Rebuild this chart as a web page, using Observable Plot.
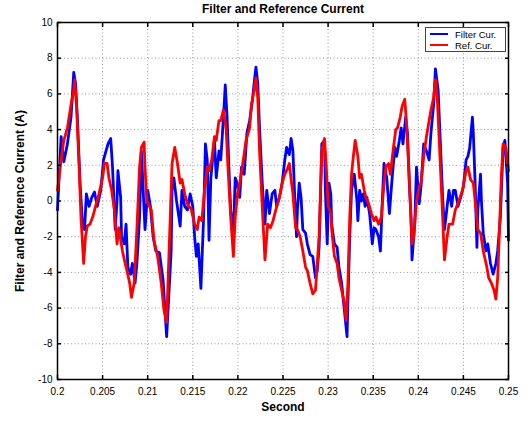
<!DOCTYPE html>
<html>
<head>
<meta charset="utf-8">
<script src="https://cdn.jsdelivr.net/npm/d3@7"></script>
<script src="https://cdn.jsdelivr.net/npm/@observablehq/plot@0.6"></script>
<style>
  html, body { margin: 0; padding: 0; background: white; }
  #wrap { position: relative; width: 528px; height: 426px; font-family: "Liberation Sans", Arial, sans-serif; }
  #legend { position: absolute; left: 425px; top: 27px; width: 81px; height: 25px; border: 1px solid #444; background: white; font-size: 9.5px; box-sizing: border-box; }
  .item { position: absolute; left: 4px; height: 11px; line-height: 11px; white-space: nowrap; }
  .sw { display: inline-block; width: 18px; height: 0; border-top: 2px solid; vertical-align: middle; margin-right: 7px; position: relative; top: -1px; }
</style>
</head>
<body>
<div id="wrap"></div>
<script>
const xTicks = [0.2, 0.205, 0.21, 0.215, 0.22, 0.225, 0.23, 0.235, 0.24, 0.245, 0.25];
const xTickLabels = ["0.2", "0.205", "0.21", "0.215", "0.22", "0.225", "0.23", "0.235", "0.24", "0.245", "0.25"];
const yTicks = [-10, -8, -6, -4, -2, 0, 2, 4, 6, 8, 10];
const yTickLabels = ["-10", "-8", "-6", "-4", "-2", "0", "2", "4", "6", "8", "10"];
const seriesNames = ["Filter Cur.", "Ref. Cur."];
const seriesColors = ["#0000ff", "#ff0000"];

const filterTime = [
  0.2000, 0.2004, 0.2007, 0.2011, 0.2015, 0.2018, 0.2020, 0.2022, 0.2025, 0.2028,
  0.2030, 0.2032, 0.2035, 0.2038, 0.2041, 0.2044, 0.2048, 0.2051, 0.2056, 0.2059,
  0.2061, 0.2064, 0.2066, 0.2067, 0.2070, 0.2071, 0.2074, 0.2076, 0.2078, 0.2081,
  0.2083, 0.2086, 0.2088, 0.2091, 0.2093, 0.2097, 0.2100, 0.2103, 0.2106, 0.2109,
  0.2113, 0.2117, 0.2121,
  0.2126, 0.2127, 0.2129, 0.2132, 0.2136, 0.2138, 0.2141, 0.2144, 0.2147, 0.2150,
  0.2152, 0.2154, 0.2156, 0.2159, 0.2162, 0.2164, 0.2166, 0.2168, 0.2170, 0.2174,
  0.2176, 0.2179, 0.2181, 0.2184, 0.2186, 0.2188, 0.2190, 0.2192, 0.2195, 0.2197,
  0.2199, 0.2202, 0.2204, 0.2207, 0.2210, 0.2213, 0.2216, 0.2218, 0.2220, 0.2222,
  0.2224, 0.2227, 0.2230, 0.2232, 0.2235, 0.2238, 0.2241, 0.2243, 0.2246,
  0.2249, 0.2252, 0.2254, 0.2257, 0.2259, 0.2261, 0.2263, 0.2265, 0.2266, 0.2268,
  0.2270, 0.2272, 0.2275, 0.2277, 0.2280, 0.2283, 0.2286, 0.2288, 0.2290, 0.2292,
  0.2293, 0.2296, 0.2297, 0.2299, 0.2301, 0.2303, 0.2304, 0.2307, 0.2310, 0.2312,
  0.2315, 0.2318, 0.2321, 0.2322, 0.2324, 0.2326, 0.2329, 0.2332, 0.2333, 0.2335,
  0.2337, 0.2339, 0.2341, 0.2343, 0.2346, 0.2349, 0.2351, 0.2353, 0.2356, 0.2358,
  0.2360, 0.2362, 0.2365, 0.2368,
  0.2371, 0.2374, 0.2376, 0.2379, 0.2381, 0.2383, 0.2386, 0.2388, 0.2390, 0.2392,
  0.2393, 0.2396, 0.2398, 0.2401, 0.2403, 0.2406, 0.2409, 0.2412, 0.2414, 0.2417,
  0.2419, 0.2422, 0.2424, 0.2427, 0.2429, 0.2432, 0.2434, 0.2437, 0.2439, 0.2441,
  0.2444, 0.2447, 0.2450, 0.2453, 0.2455, 0.2457, 0.2460, 0.2461, 0.2463, 0.2465,
  0.2466, 0.2469, 0.2470, 0.2472, 0.2475, 0.2477, 0.2480, 0.2483, 0.2486, 0.2488,
  0.2491, 0.2494, 0.2496, 0.2499, 0.2500
];
const filterCurrent = [
  -0.5, 3.6, 2.2, 3.2, 4.7, 7.2, 6.6, 4.7, 1.0, -1.5,
  -1.6, 0.4, -0.3, 0.2, 0.5, -0.3, 0.6, 2.3, 3.2, 3.5,
  1.9, -1.6, 0.0, 1.7, 0.2, -2.0, -2.4, -1.3, -3.7, -4.1,
  -3.5, -4.6, -3.5, -0.9, 2.8, -1.6, 0.6, -0.3, -2.0, -2.8,
  -2.9, -4.4, -7.6,
  -2.8, 0.6, 1.3, 0.0, -1.4, 0.6, -0.3, -0.5, 0.4, -0.3,
  -2.0, -3.1, -2.4, -4.9, -0.9, 3.2, 2.3, -2.2, 1.3, 3.4,
  1.3, 2.8, 2.3, 4.7, 6.5, 4.7, 1.9, -0.5, -1.9, 1.3,
  1.0, 0.2, 1.9, 1.5, 3.8, 4.5, 5.6, 6.6, 7.5, 6.6,
  4.1, 1.0, -1.3, 0.6, -0.7, 0.4, 0.6, -0.3, 0.2,
  1.0, 2.3, 3.0, 2.6, 3.5, 2.8, 0.2, -2.0, -0.5, 1.0,
  0.2, -1.6, -1.8, -2.4, -3.0, -3.1, -4.3, -3.9, -2.6, 1.0,
  3.2, 3.4, 0.6, -2.4, 1.0, 0.4, -1.3, -2.4, -2.6, -3.7,
  -4.6, -6.1, -7.6, -5.6, -2.0, 0.6, 1.5, 0.0, -1.1, 0.6,
  0.0, 0.4, -0.3, 0.2, -0.7, -2.4, -1.5, -1.6, -2.0, -2.8,
  -0.15, 2.1, 1.3, -0.7,
  1.3, 3.0, 2.5, 3.4, 4.1, 3.2, 4.7, 3.8, 1.0, -0.9,
  -3.3, -1.3, 1.9, -0.15, 0.8, 3.2, 2.8, 2.3, 3.8, 5.4,
  7.4, 6.2, 3.8, 0.2, -1.6, -0.3, 0.6, -0.3, 0.6, 0.6,
  -0.3, 0.2, 0.8, 2.3, 2.5, 3.0, 4.7, 3.8, 1.0, -2.6,
  -0.5, 1.5, 0.0, -1.8, -2.8, -2.4, -3.5, -4.1, -3.5, -2.8,
  -0.9, 3.0, 3.4, 1.0, -2.2
];

const refTime = [
  0.2000, 0.2004, 0.2007, 0.2011, 0.2015, 0.2018, 0.2019, 0.2021, 0.2024, 0.2026,
  0.2029, 0.2031, 0.2033, 0.2036, 0.2039, 0.2043, 0.2046, 0.2050, 0.2052, 0.2055,
  0.2057, 0.2060, 0.2063, 0.2066, 0.2068, 0.2072, 0.2075, 0.2077, 0.2080, 0.2082,
  0.2085, 0.2088, 0.2091, 0.2093, 0.2096, 0.2097, 0.2099, 0.2102, 0.2104, 0.2107,
  0.2111, 0.2115, 0.2118, 0.2121,
  0.2125, 0.2127, 0.2130, 0.2133, 0.2136, 0.2138, 0.2141, 0.2145, 0.2148, 0.2152,
  0.2155, 0.2157, 0.2160, 0.2163, 0.2166, 0.2168, 0.2171, 0.2174, 0.2176, 0.2179,
  0.2181, 0.2184, 0.2187, 0.2189, 0.2192, 0.2195, 0.2197, 0.2200, 0.2202, 0.2206,
  0.2209, 0.2213, 0.2215, 0.2218, 0.2220, 0.2222, 0.2224, 0.2227, 0.2230, 0.2233,
  0.2236, 0.2239, 0.2242, 0.2246, 0.2249,
  0.2252, 0.2254, 0.2257, 0.2259, 0.2261, 0.2264, 0.2266, 0.2269, 0.2272, 0.2275,
  0.2277, 0.2280, 0.2283, 0.2286, 0.2288, 0.2290, 0.2292, 0.2293, 0.2296, 0.2298,
  0.2300, 0.2303, 0.2304, 0.2307, 0.2310, 0.2312, 0.2315, 0.2318, 0.2320, 0.2322,
  0.2324, 0.2326, 0.2328, 0.2330, 0.2333, 0.2335, 0.2337, 0.2340, 0.2342, 0.2345,
  0.2348, 0.2351, 0.2353, 0.2356, 0.2359, 0.2362, 0.2364, 0.2367, 0.2369,
  0.2372, 0.2375, 0.2377, 0.2380, 0.2382, 0.2385, 0.2387, 0.2390, 0.2392, 0.2393,
  0.2395, 0.2398, 0.2401, 0.2403, 0.2406, 0.2409, 0.2412, 0.2414, 0.2417, 0.2419,
  0.2421, 0.2424, 0.2427, 0.2429, 0.2432, 0.2434, 0.2438, 0.2441, 0.2445, 0.2449,
  0.2453, 0.2455, 0.2458, 0.2461, 0.2464, 0.2466, 0.2469, 0.2472, 0.2476, 0.2478,
  0.2481, 0.2484, 0.2486, 0.2488, 0.2490, 0.2492, 0.2494, 0.2497, 0.2500
];
const refCurrent = [
  0.6, 2.3, 3.4, 4.1, 5.4, 6.2, 6.8, 5.4, 1.9, -0.9,
  -3.5, -2.0, -1.4, -1.3, -0.9, -0.15, 0.4, 1.3, 2.1, 2.1,
  1.3, 0.6, -0.5, -2.4, -1.5, -2.8, -3.5, -3.9, -4.6, -5.4,
  -4.6, -1.6, 1.9, 3.0, 3.3, 1.9, 0.0, -0.3, -0.5, -2.2,
  -3.1, -4.6, -6.1, -6.8,
  -0.9, 2.1, 3.0, 2.1, 1.0, 1.2, 0.4, -0.3, -0.4, -1.3,
  -1.6, -0.9, -1.1, 0.6, 1.9, 1.7, 2.3, 3.6, 3.4, 4.5,
  4.5, 5.1, 4.0, 1.9, -0.9, -3.1, -0.9, 0.6, 1.0, 2.3,
  3.4, 4.1, 5.4, 6.2, 6.9, 5.8, 2.8, -0.3, -3.3, -1.3,
  -1.5, -1.1, -0.5, 0.2, 1.0,
  1.5, 1.7, 2.1, 1.2, 0.4, -1.5, -1.6, -2.0, -2.8, -3.7,
  -3.9, -4.6, -5.2, -5.0, -3.5, -2.0, 1.3, 2.8, 3.5, 1.9,
  -0.3, -0.7, -1.6, -3.1, -3.5, -4.3, -5.0, -5.7, -6.7, -4.6,
  -0.9, 1.5, 2.5, 3.4, 2.5, 1.3, 1.5, 0.6, 0.2, -0.15,
  -0.7, -1.1, -0.9, -1.3, -0.9, 1.0, 1.9, 2.1, 1.5,
  2.8, 4.0, 4.1, 4.7, 5.3, 5.7, 4.3, 1.3, -1.3, -2.4,
  -2.0, 0.0, 0.8, 1.0, 2.5, 3.6, 4.5, 5.1, 5.8, 6.8,
  5.8, 2.5, -0.9, -3.3, -2.0, -1.3, -1.3, -0.5, 0.0, 0.6,
  1.7, 1.9, 1.2, 1.0, -0.5, -1.6, -1.8, -2.8, -3.7, -4.3,
  -4.6, -5.0, -5.5, -4.3, -1.6, 1.3, 3.2, 3.0, 1.7
];

const filterData = filterTime.map((t, i) => ({t, v: filterCurrent[i]}));
const refData = refTime.map((t, i) => ({t, v: refCurrent[i]}));

const gridStyle = {stroke: "#999", strokeOpacity: 1, strokeWidth: 1, strokeDasharray: "1,2.5"};

const chart = Plot.plot({
  width: 528,
  height: 426,
  marginLeft: 57,
  marginRight: 20,
  marginTop: 22,
  marginBottom: 47,
  style: {fontFamily: "'Liberation Sans', Arial, sans-serif", fontSize: "10px", color: "black", background: "white", overflow: "visible"},
  x: {domain: [0.2, 0.25]},
  y: {domain: [-10, 10]},
  marks: [
    Plot.gridX(xTicks, gridStyle),
    Plot.gridY(yTicks, gridStyle),
    Plot.line(filterData, {x: "t", y: "v", stroke: seriesColors[0], strokeWidth: 2.8, strokeLinejoin: "round"}),
    Plot.line(refData, {x: "t", y: "v", stroke: seriesColors[1], strokeWidth: 2.8, strokeLinejoin: "round"}),
    Plot.frame({stroke: "black", strokeWidth: 1.5}),
    Plot.axisX(xTicks, {anchor: "bottom", tickSize: -4, tickPadding: 12, strokeWidth: 1.5, tickFormat: d => xTickLabels[xTicks.indexOf(d)], label: null}),
    Plot.axisX(xTicks, {anchor: "top", tickSize: -4, strokeWidth: 1.5, tickFormat: () => "", label: null}),
    Plot.axisY(yTicks, {anchor: "left", tickSize: -4, tickPadding: 9, strokeWidth: 1.5, tickFormat: d => yTickLabels[yTicks.indexOf(d)], label: null}),
    Plot.axisY(yTicks, {anchor: "right", tickSize: -4, strokeWidth: 1.5, tickFormat: () => "", label: null}),
    Plot.text(["Filter and Reference Current"], {frameAnchor: "top", dy: -13, lineAnchor: "middle", fontSize: 12, fontWeight: "bold"}),
    Plot.text(["Second"], {frameAnchor: "bottom", dy: 31, fontSize: 12, fontWeight: "bold"}),
    Plot.text(["Filter and Reference Current (A)"], {frameAnchor: "left", dx: -37, rotate: -90, textAnchor: "middle", fontSize: 12, fontWeight: "bold"})
  ]
});

const wrap = document.getElementById("wrap");
wrap.appendChild(chart);

const legend = document.createElement("div");
legend.id = "legend";
seriesNames.forEach((name, i) => {
  const item = document.createElement("div");
  item.className = "item";
  item.style.top = (1 + i * 11) + "px";
  const sw = document.createElement("span");
  sw.className = "sw";
  sw.style.borderColor = seriesColors[i];
  item.appendChild(sw);
  item.appendChild(document.createTextNode(name));
  legend.appendChild(item);
});
wrap.appendChild(legend);
</script>
</body>
</html>
